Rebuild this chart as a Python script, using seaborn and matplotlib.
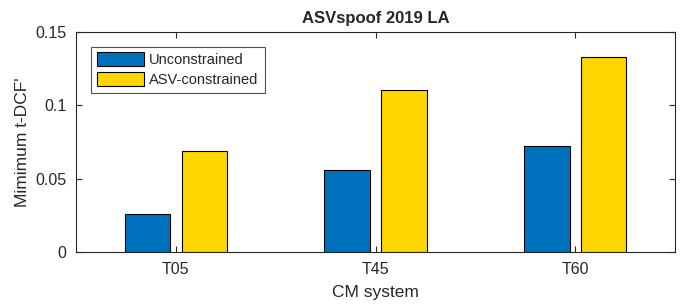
import pandas as pd
import seaborn as sns
import matplotlib.pyplot as plt

# CM system ve t-DCF degerleri
systems = ["T05", "T45", "T60"]
unconstrained = [0.026, 0.056, 0.072]
asv_constrained = [0.069, 0.110, 0.133]
series_names = ["Unconstrained", "ASV-constrained"]

df = pd.DataFrame({
    "system": systems * 2,
    "tdcf": unconstrained + asv_constrained,
    "kind": [series_names[0]] * 3 + [series_names[1]] * 3,
})

sns.set_style("white")
plt.rcParams["font.family"] = ["Liberation Sans", "DejaVu Sans"]

fig = plt.figure(figsize=(6.8, 3.04), dpi=100)
ax = fig.add_axes([0.1118, 0.171, 0.881, 0.725])

sns.barplot(data=df, x="system", y="tdcf", hue="kind",
            palette=["#0072BD", "#FFD700"], saturation=1, width=0.57, gap=0.2,
            edgecolor="black", linewidth=0.8, ax=ax)

ax.set_xlim(-0.5, 2.5)
ax.set_ylim(0, 0.15)
ax.set_yticks([0, 0.05, 0.1, 0.15])
ax.set_yticklabels(["0", "0.05", "0.1", "0.15"])
ax.tick_params(direction="in", length=4, width=0.8, colors="#262626",
               labelsize=11.5, top=True, right=True, bottom=True, left=True)
ax.tick_params(axis="y", pad=7)
ax.tick_params(axis="x", pad=7)
for s in ax.spines.values():
    s.set_color("#262626")
    s.set_linewidth(0.8)
    s.set_visible(True)

ax.set_title("ASVspoof 2019 LA", fontsize=12, fontweight="bold", pad=6)
ax.set_xlabel("CM system", fontsize=12.5, color="#262626", labelpad=6)
ax.set_ylabel("Mimimum t-DCF'", fontsize=12.5, color="#262626", labelpad=4)

leg = ax.legend(loc="upper left", bbox_to_anchor=(0.025, 0.932), fontsize=10.5,
                frameon=True, fancybox=False, edgecolor="#262626",
                handlelength=3.2, handleheight=1.1, borderpad=0.4,
                labelspacing=0.3, handletextpad=0.4, borderaxespad=0)
leg.get_frame().set_linewidth(0.8)

fig.savefig("out.png", dpi=100)
